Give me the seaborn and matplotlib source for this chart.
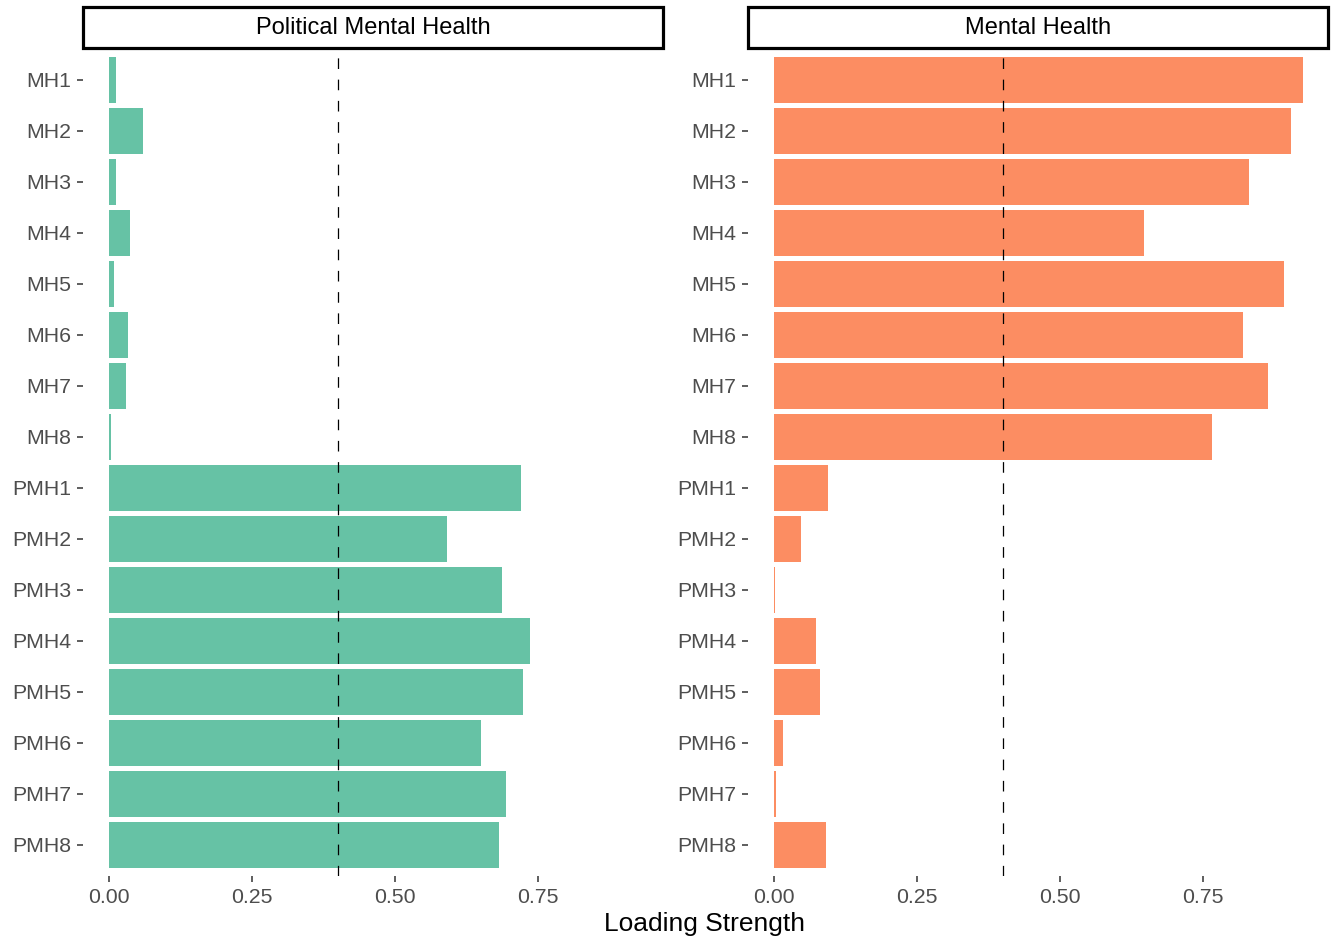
import matplotlib
matplotlib.use("Agg")
import matplotlib.pyplot as plt
from matplotlib.patches import Rectangle
import numpy as np
import pandas as pd
import seaborn as sns

# Item labels, top to bottom
items = ["MH1", "MH2", "MH3", "MH4", "MH5", "MH6", "MH7", "MH8",
         "PMH1", "PMH2", "PMH3", "PMH4", "PMH5", "PMH6", "PMH7", "PMH8"]

# Absolute loadings on each factor
political_mh = [0.012, 0.059, 0.012, 0.037, 0.009, 0.033, 0.030, 0.004,
                0.720, 0.591, 0.687, 0.736, 0.724, 0.650, 0.694, 0.682]
mental_health = [0.925, 0.904, 0.830, 0.647, 0.892, 0.820, 0.864, 0.765,
                 0.094, 0.047, 0.002, 0.073, 0.080, 0.016, 0.003, 0.091]

factors = ["Political Mental Health", "Mental Health"]
factor_colors = ["#66C2A5", "#FC8D62"]
threshold = 0.4
x_ticks = [0.0, 0.25, 0.50, 0.75]
x_ticklabels = ["0.00", "0.25", "0.50", "0.75"]

df = pd.DataFrame({
    "item": items * 2,
    "factor": [factors[0]] * len(items) + [factors[1]] * len(items),
    "loading": political_mh + mental_health,
})

sns.set_theme(style="white")
plt.rcParams["font.family"] = ["Liberation Sans", "DejaVu Sans"]

W, H = 1335, 940
fig = plt.figure(figsize=(W / 100, H / 100), dpi=100)

panel_top, panel_bottom = 49, 875.6
panels_px = [(83, 663), (748, 1328)]
unit_px = 572.0
zero_offset = 26.0

for (x0, x1), name, col in zip(panels_px, factors, factor_colors):
    ax = fig.add_axes([x0 / W, 1 - panel_bottom / H,
                       (x1 - x0) / W, (panel_bottom - panel_top) / H])
    sub = df[df["factor"] == name]
    sns.barplot(data=sub, y="item", x="loading", order=items, orient="h",
                color=col, saturation=1, width=0.9, ax=ax, errorbar=None,
                edgecolor="none", linewidth=0)
    ax.axvline(threshold, color="black", lw=0.9, linestyle=(0, (8.5, 8.5)),
               zorder=5)
    ax.set_xlim(-zero_offset / unit_px, (x1 - x0 - zero_offset) / unit_px)
    ax.set_ylim(len(items) - 0.4, -0.6)
    ax.set_xticks(x_ticks)
    ax.set_xticklabels(x_ticklabels)
    ax.set_xlabel("")
    ax.set_ylabel("")
    for s in ax.spines.values():
        s.set_visible(False)
    ax.tick_params(axis="both", which="major", length=4.3, width=1.1,
                   color="#333333", labelcolor="#4D4D4D", labelsize=15.3,
                   bottom=True, left=True)
    ax.tick_params(axis="x", pad=4.5)
    ax.tick_params(axis="y", pad=4)

    # facet strip
    strip_h = (panel_top - 6) / (panel_bottom - panel_top)
    ax.add_patch(Rectangle((0, 1.0015), 1, strip_h - 0.003,
                           transform=ax.transAxes, facecolor="white",
                           edgecolor="black", lw=2.3, clip_on=False,
                           zorder=10))
    ax.text(0.5, 1 + strip_h / 2 - 0.0012, name, transform=ax.transAxes,
            ha="center", va="center", fontsize=17, color="black", zorder=11)

fig.text(705 / W, 1 - 924.5 / H, "Loading Strength", ha="center", va="center",
         fontsize=19, color="black")

fig.savefig("out.png", dpi=100, facecolor="white")
